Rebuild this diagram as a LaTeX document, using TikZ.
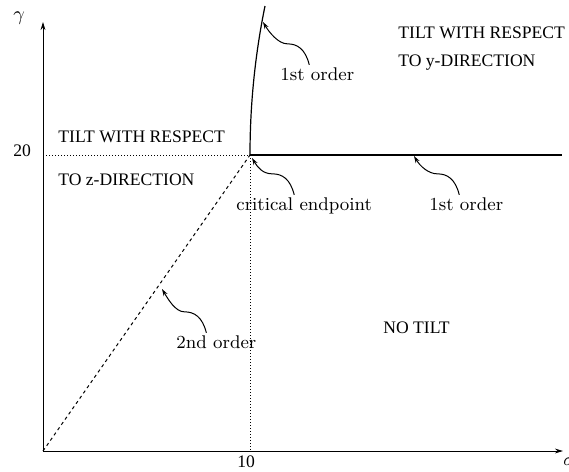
\documentclass[tikz,border=0pt]{standalone}
\usepackage{fontspec}
\newfontfamily\capsfont{Liberation Serif}
\usetikzlibrary{arrows.meta,calc}
\tikzset{
  axis/.style={line width=0.5pt,-{Stealth[length=4pt,width=2.4pt]}},
  phase/.style={line width=0.6pt},
  guide/.style={line width=0.5pt,dash pattern=on 0.5pt off 1pt},
  second/.style={line width=0.5pt,dash pattern=on 1.6pt off 1.6pt},
  wig/.style={line width=0.5pt,-{Stealth[length=3.5pt,width=2.2pt]}},
  region/.style={font=\capsfont\fontsize{8.8}{10}\selectfont,inner sep=0pt,anchor=base west},
  lbl/.style={font=\fontsize{9.2}{11}\selectfont,inner sep=1pt,anchor=base west},
}
% wavy pointer from a label (#1) to a point (#2)
\newcommand{\wiggle}[2]{\draw[wig] (#1) .. controls +(-4,-16) and +(10,0) .. ($(#1)+(-22,-21)$) .. controls +(-9,0) and +(6,10) .. (#2);}

\begin{document}
\begin{tikzpicture}[x=0.5pt,y=-0.5pt]
  \useasboundingbox (0,0) rectangle (569,472);
  % axes
  \coordinate (O) at (43,451);
  \coordinate (ymax) at (43,22);
  \coordinate (xmax) at (563,451);
  \coordinate (ce) at (250,155);
  \coordinate (top) at (265,6);
  \coordinate (east) at (562,155);
  \coordinate (yl) at (43,155);
  \coordinate (xl) at (250,451);
  \draw[axis] (O) -- (ymax);
  \draw[axis] (O) -- (xmax);
  \node[lbl,font=\fontsize{9.6}{11}\selectfont] (gam) at (11,20) {$\gamma$};
  \node[region,inner sep=0pt] (sig) at (563,465) {$\sigma$};
  \node[region] (t20) at (13,156) {20};
  \node[region] (t10) at (237,467) {10};
  % phase boundaries
  \draw[guide] (yl) -- (ce);
  \draw[guide] (ce) -- (xl);
  \draw[second] (O) -- (ce);
  \draw[phase] (ce) -- (east);
  \draw[phase] (ce) .. controls (250,100) and (256,50) .. (top);
  % regions
  \node[region] (z1) at (58,142) {TILT WITH RESPECT};
  \node[region] (z2) at (58,185) {TO z-DIRECTION};
  \node[region] (y1) at (398,38) {TILT WITH RESPECT};
  \node[region] (y2) at (398,66) {TO y-DIRECTION};
  \node[region] (nt) at (383,333) {NO TILT};
  % transition labels
  \node[lbl] (o1) at (278,80) {1st order};
  \node[lbl] (cep) at (234,210) {critical endpoint};
  \node[lbl] (o2) at (427,210) {1st order};
  \node[lbl] (so) at (174,348) {2nd order};
  \coordinate (p1) at (263,22);
  \coordinate (p2) at (252,158);
  \coordinate (p3) at (414,156);
  \coordinate (p4) at (162,289);
  \wiggle{$(o1.north)+(-8,0)$}{p1}
  \wiggle{$(cep.north)+(-10,0)$}{p2}
  \wiggle{$(o2.north)+(-7,0)$}{p3}
  \wiggle{$(so.north)+(-10,0)$}{p4}
\end{tikzpicture}
\end{document}
